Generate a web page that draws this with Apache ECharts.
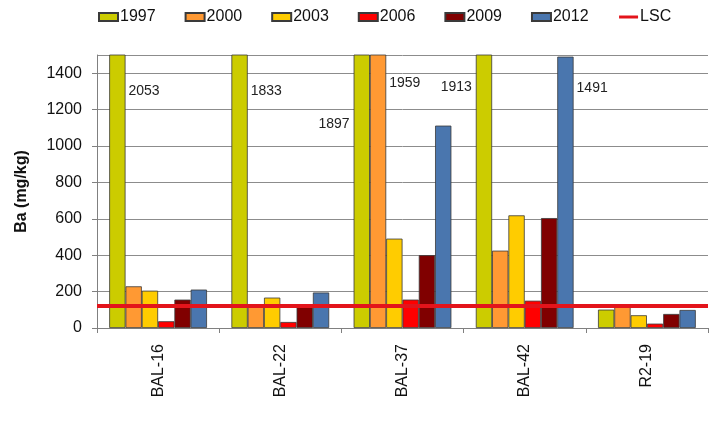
<!DOCTYPE html>
<html>
<head>
<meta charset="utf-8">
<script src="https://cdn.jsdelivr.net/npm/echarts@6/dist/echarts.min.js"></script>
<style>
  html, body { margin: 0; padding: 0; background: #fff; }
  #chart { width: 717px; height: 442px; }
</style>
</head>
<body>
<div id="chart"></div>
<script>
// ---- data ----
const categories = ['BAL-16', 'BAL-22', 'BAL-37', 'BAL-42', 'R2-19'];
const years = ['1997', '2000', '2003', '2006', '2009', '2012'];
const v1997 = [2053, 1833, 1897, 1913, 101];
const v2000 = [229, 122, 1959, 425, 120];
const v2003 = [205, 167, 491, 619, 70];
const v2006 = [37, 33, 156, 150, 24];
const v2009 = [156, 118, 400, 604, 77];
const v2012 = [211, 195, 1112, 1491, 99];
const lscValue = 125;
const yTicks = [0, 200, 400, 600, 800, 1000, 1200, 1400];

// ---- style ----
const FONT = '"Liberation Sans", Arial, sans-serif';
const colors = ['#CCCC00', '#FF9933', '#FFCC00', '#FF0000', '#800000', '#4A76AE'];
const yMax = 1500;
const leftSide = { '0-2': true, '0-3': true };
const labelY = { '0-0': 37, '0-1': 37, '0-2': 70, '1-2': 29, '0-3': 33, '5-3': 32 };
const alwaysLabel = { '5-3': true };

const seriesValues = [v1997, v2000, v2003, v2006, v2009, v2012];

const barSeries = seriesValues.map((vals, si) => ({
  name: years[si],
  type: 'bar',
  barGap: '0%',
  barCategoryGap: '20%',
  itemStyle: { color: colors[si], borderColor: '#3a3a3a', borderWidth: 0.8 },
  data: vals.map((v, ci) => {
    const key = si + '-' + ci;
    if (v > yMax || alwaysLabel[key]) {
      const left = !!leftSide[key];
      return {
        value: v,
        label: {
          show: true,
          position: left ? [0, labelY[key]] : ['100%', labelY[key]],
          align: left ? 'right' : 'left',
          verticalAlign: 'middle',
          offset: left ? [-4, 0] : [3, 0],
          color: '#222',
          fontSize: 14,
          fontFamily: FONT,
          formatter: String(v)
        }
      };
    }
    return v;
  })
}));

const lscSeries = {
  name: 'LSC',
  type: 'line',
  symbol: 'none',
  data: [],
  lineStyle: { color: '#E3141B', width: 3 },
  itemStyle: { color: '#E3141B' },
  markLine: {
    silent: true,
    symbol: ['none', 'none'],
    label: { show: false },
    lineStyle: { color: '#E3141B', width: 4, type: 'solid' },
    data: [{ yAxis: lscValue }]
  },
  z: 5
};

const chart = echarts.init(document.getElementById('chart'), null, { renderer: 'canvas' });
chart.setOption({
  animation: false,
  backgroundColor: '#fff',
  legend: {
    left: 93,
    top: 4,
    itemWidth: 19,
    itemHeight: 8,
    itemGap: 29,
    textStyle: { fontSize: 16, fontFamily: FONT, color: '#111', padding: [0, 0, 0, -3] },
    data: years.map(y => ({ name: y, icon: 'rect' })).concat([
      { name: 'LSC', itemStyle: { opacity: 0 }, lineStyle: { color: '#E3141B', width: 3, opacity: 1 } }
    ])
  },
  grid: { left: 97, right: 9, top: 55, bottom: 114, containLabel: false },
  xAxis: {
    type: 'category',
    data: categories,
    axisLine: { lineStyle: { color: '#808080', width: 1 } },
    axisTick: { show: true, length: 5, lineStyle: { color: '#808080' } },
    axisLabel: { rotate: 90, margin: 16, fontSize: 16, fontFamily: FONT, color: '#111' }
  },
  yAxis: {
    type: 'value',
    min: yTicks[0],
    max: yMax,
    interval: yTicks[1] - yTicks[0],
    name: 'Ba (mg/kg)',
    nameLocation: 'middle',
    nameGap: 67,
    nameTextStyle: { fontSize: 16, fontWeight: 'bold', fontFamily: FONT, color: '#111' },
    axisLine: { show: true, lineStyle: { color: '#808080', width: 1 } },
    axisTick: { show: true, length: 5, lineStyle: { color: '#808080' } },
    axisLabel: {
      margin: 15, fontSize: 16, fontFamily: FONT, color: '#111', showMaxLabel: false,
      formatter: v => (yTicks.indexOf(v) >= 0 ? String(v) : '')
    },
    splitLine: { show: true, lineStyle: { color: '#8c8c8c', width: 1 } }
  },
  series: barSeries.concat([lscSeries])
});
</script>
</body>
</html>
